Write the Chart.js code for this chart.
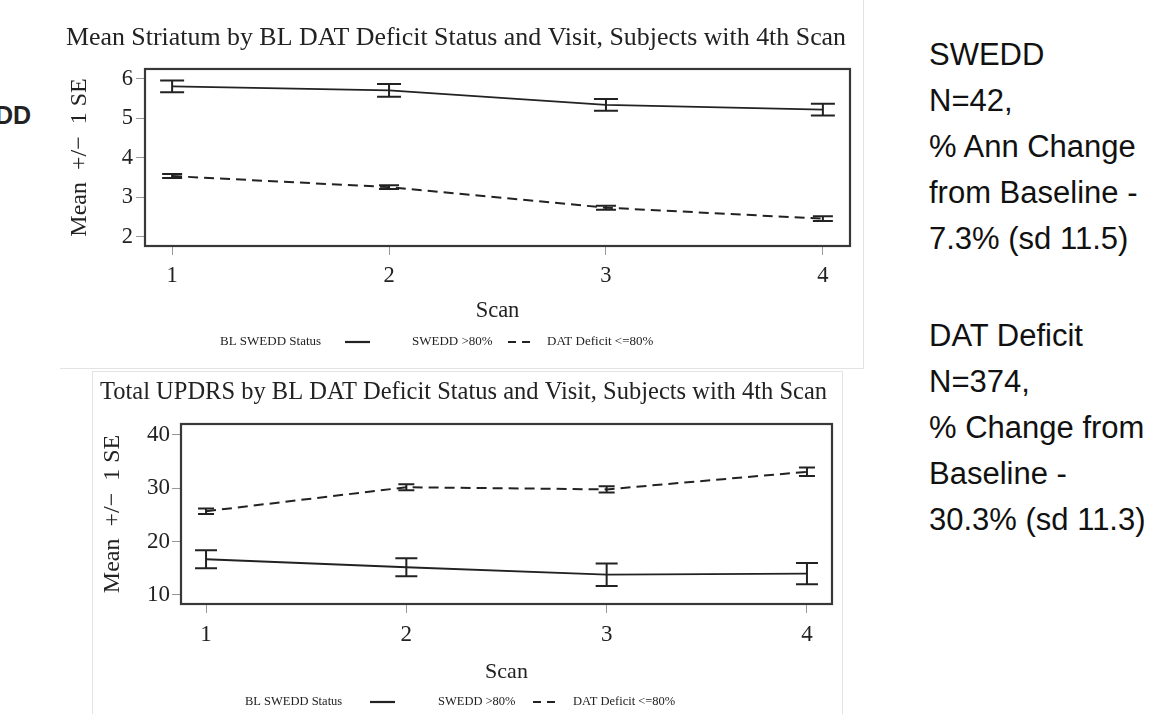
<!DOCTYPE html>
<html><head><meta charset="utf-8">
<script src="https://cdn.jsdelivr.net/npm/chart.js@4"></script>
<style>
html,body{margin:0;padding:0;background:#fff;}
body{width:1170px;height:714px;position:relative;overflow:hidden;font-family:"Liberation Sans",Arial,sans-serif;}
.frame{position:absolute;box-sizing:border-box;}
#f1{left:60px;top:0;width:804px;height:369px;border-right:1px solid #e3e3e3;border-bottom:1px solid #e3e3e3;}
#f2{left:92px;top:371px;width:751px;height:360px;border:1px solid #e3e3e3;}
.frame canvas{position:absolute;left:0;top:0;}
.note{position:absolute;left:929px;font-size:31px;line-height:46px;color:#111;white-space:nowrap;}
#dd{position:absolute;left:-5px;top:103px;font-weight:bold;font-size:25px;line-height:25px;color:#222;}
</style></head>
<body>
<div id="dd">DD</div>
<div class="frame" id="f1"><canvas id="c1" width="803" height="368"></canvas></div>
<div class="frame" id="f2"><canvas id="c2" width="749" height="342"></canvas></div>
<div class="note" style="top:32px">SWEDD<br>N=42,<br>% Ann Change<br>from Baseline -<br>7.3% (sd 11.5)</div>
<div class="note" style="top:313px">DAT Deficit<br>N=374,<br>% Change from<br>Baseline -<br>30.3% (sd 11.3)</div>
<script>
// ---- data ----
const scans = [1, 2, 3, 4];
const scanLabels = ['1', '2', '3', '4'];
const striatumSwedd = [5.81, 5.71, 5.34, 5.22];
const striatumSweddSE = [0.15, 0.16, 0.15, 0.15];
const striatumDat = [3.54, 3.26, 2.74, 2.46];
const striatumDatSE = [0.05, 0.05, 0.05, 0.06];
const striatumTicks = [2, 3, 4, 5, 6];
const updrsSwedd = [16.7, 15.2, 13.8, 14.0];
const updrsSweddSE = [1.7, 1.7, 2.1, 2.0];
const updrsDat = [25.7, 30.2, 29.8, 33.1];
const updrsDatSE = [0.5, 0.55, 0.6, 0.8];
const updrsTicks = [10, 20, 30, 40];
const legendLabels = ['BL SWEDD Status', 'SWEDD >80%', 'DAT Deficit <=80%'];
const yTitle = 'Mean  +/\u2212  1 SE';
const xTitle = 'Scan';
const title1 = 'Mean Striatum by BL DAT Deficit Status and Visit, Subjects with 4th Scan';
const title2 = 'Total UPDRS by BL DAT Deficit Status and Visit, Subjects with 4th Scan';

const SERIF = '"Liberation Serif", "Times New Roman", serif';
const INK = '#222';

const errorBars = {
  id: 'errorBars',
  afterDatasetsDraw(chart) {
    const {ctx, scales: {x, y}} = chart;
    chart.data.datasets.forEach(ds => {
      if (!ds.se) return;
      ctx.save();
      ctx.strokeStyle = INK; ctx.lineWidth = ds.barWidth; ctx.setLineDash([]);
      ds.data.forEach((p, j) => {
        const px = x.getPixelForValue(p.x);
        const t = y.getPixelForValue(p.y + ds.se[j]);
        const b = y.getPixelForValue(p.y - ds.se[j]);
        const hw = ds.capHalf;
        ctx.beginPath();
        ctx.moveTo(px, t); ctx.lineTo(px, b);
        ctx.moveTo(px - hw, t); ctx.lineTo(px + hw, t);
        ctx.moveTo(px - hw, b); ctx.lineTo(px + hw, b);
        ctx.stroke();
      });
      ctx.restore();
    });
  }
};
const plotFrame = {
  id: 'plotFrame',
  beforeDatasetsDraw(chart) {
    const {ctx, chartArea: a} = chart;
    ctx.save(); ctx.strokeStyle = '#383838'; ctx.lineWidth = 2.2;
    ctx.strokeRect(a.left, a.top, a.right - a.left, a.bottom - a.top);
    ctx.restore();
  }
};
const sasLegend = {
  id: 'sasLegend',
  afterDraw(chart, args, o) {
    const ctx = chart.ctx; ctx.save();
    ctx.font = o.fontSize + 'px ' + SERIF; ctx.fillStyle = INK; ctx.textBaseline = 'middle';
    ctx.fillText(legendLabels[0], o.t0, o.y);
    ctx.strokeStyle = INK; ctx.lineWidth = 2.2;
    ctx.beginPath(); ctx.moveTo(o.s0, o.y); ctx.lineTo(o.s1, o.y); ctx.stroke();
    ctx.fillText(legendLabels[1], o.t1, o.y);
    ctx.setLineDash([8, 6]);
    ctx.beginPath(); ctx.moveTo(o.d0, o.y); ctx.lineTo(o.d1, o.y); ctx.stroke();
    ctx.fillText(legendLabels[2], o.t2, o.y);
    ctx.restore();
  }
};

function makeChart(id, cfg) {
  const pts = arr => scans.map((s, i) => ({x: s, y: arr[i]}));
  return new Chart(document.getElementById(id), {
    type: 'line',
    data: {
      datasets: [
        {data: pts(cfg.swedd), se: cfg.sweddSE, borderColor: INK, borderWidth: 1.8, pointRadius: 0, capHalf: cfg.capS, barWidth: 2, tension: 0, fill: false},
        {data: pts(cfg.dat), se: cfg.datSE, borderColor: INK, borderWidth: 2, borderDash: [10, 6], pointRadius: 0, capHalf: cfg.capD, barWidth: 2, tension: 0, fill: false}
      ]
    },
    options: {
      responsive: false, animation: false, devicePixelRatio: 1,
      layout: {padding: {left: cfg.padL, right: cfg.padR, top: 0, bottom: 0}},
      plugins: {
        legend: {display: false}, tooltip: {enabled: false},
        title: {display: true, text: cfg.title, color: INK, font: {family: SERIF, size: cfg.titleSize, weight: 'normal', lineHeight: 1.2}, padding: {top: cfg.titlePadT, bottom: cfg.titlePadB}},
        sasLegend: cfg.legend
      },
      scales: {
        x: {
          type: 'linear', min: 0.875, max: 4.125,
          afterBuildTicks: s => { s.ticks = scans.map(v => ({value: v})); },
          afterFit: s => { s.height = cfg.xH; },
          ticks: {callback: v => scanLabels[scans.indexOf(v)], color: INK, font: {family: SERIF, size: cfg.tickSize}, padding: cfg.xTickPad, maxRotation: 0, autoSkip: false},
          grid: {display: true, drawOnChartArea: false, drawTicks: true, tickLength: 9, color: '#999', lineWidth: 1},
          border: {display: false},
          title: {display: true, text: xTitle, color: INK, font: {family: SERIF, size: cfg.xTitleSize, lineHeight: 1.2}, padding: {top: 0, bottom: cfg.xTitlePad}}
        },
        y: {
          min: cfg.yMin, max: cfg.yMax,
          afterBuildTicks: s => { s.ticks = cfg.yTicks.map(v => ({value: v})); },
          afterFit: s => { s.width = cfg.yW; },
          ticks: {callback: v => String(v), color: INK, font: {family: SERIF, size: cfg.tickSize}, padding: cfg.yTickPad},
          grid: {display: true, drawOnChartArea: false, drawTicks: true, tickLength: 9, color: '#999', lineWidth: 1},
          border: {display: false},
          title: {display: true, text: yTitle, color: INK, font: {family: SERIF, size: cfg.yTitleSize, lineHeight: 1.2}, padding: {top: cfg.yTitlePad, bottom: 0}}
        }
      }
    },
    plugins: [plotFrame, errorBars, sasLegend]
  });
}

makeChart('c1', {
  title: title1, titleSize: 25.9, titlePadT: 22.5, titlePadB: 15.4,
  swedd: striatumSwedd, sweddSE: striatumSweddSE, dat: striatumDat, datSE: striatumDatSE,
  capS: 12, capD: 10,
  padL: 2, padR: 13, yW: 83, xH: 122,
  yMin: 1.77, yMax: 6.25, yTicks: striatumTicks,
  tickSize: 22.5, xTickPad: 8, yTickPad: 3, xTitleSize: 22.5, xTitlePad: 43,
  yTitleSize: 24, yTitlePad: 3.6,
  legend: {fontSize: 13, y: 342, t0: 160, s0: 285, s1: 310, t1: 352, d0: 448, d1: 470, t2: 487}
});
makeChart('c2', {
  title: title2, titleSize: 24.5, titlePadT: 6.3, titlePadB: 16.3,
  swedd: updrsSwedd, sweddSE: updrsSweddSE, dat: updrsDat, datSE: updrsDatSE,
  capS: 11, capD: 8,
  padL: 2, padR: 10, yW: 86, xH: 110,
  yMin: 8.31, yMax: 42.06, yTicks: updrsTicks,
  tickSize: 23, xTickPad: 8, yTickPad: 2, xTitleSize: 22, xTitlePad: 29,
  yTitleSize: 24, yTitlePad: 3.6,
  legend: {fontSize: 12.5, y: 330, t0: 152, s0: 277, s1: 302, t1: 345, d0: 440, d1: 464, t2: 480}
});
</script>
</body></html>
